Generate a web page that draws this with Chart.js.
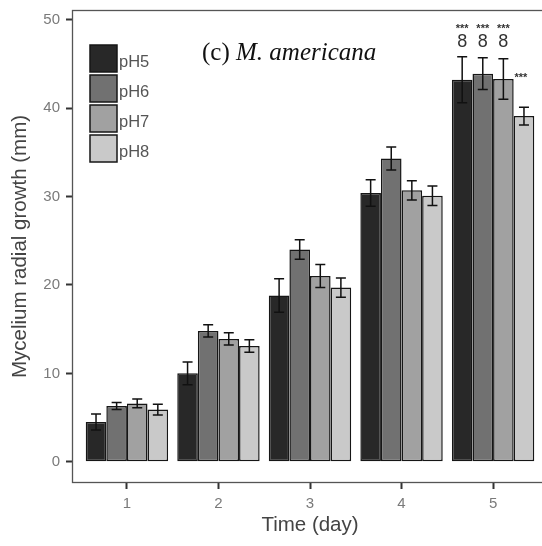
<!DOCTYPE html>
<html>
<head>
<meta charset="utf-8">
<script src="https://cdn.jsdelivr.net/npm/chart.js@4.4.1/dist/chart.umd.min.js"></script>
<style>
  html, body { margin: 0; padding: 0; background: #fff; }
  #wrap { width: 542px; height: 546px; overflow: hidden; position: relative; }
</style>
</head>
<body>
<div id="wrap"><canvas id="c" width="570" height="546"></canvas></div>
<script>
// values
const days = [1, 2, 3, 4, 5];
const yTicks = [0, 10, 20, 30, 40, 50];
const seriesNames = ['pH5', 'pH6', 'pH7', 'pH8'];
const ph5 = [4.5, 10.0, 18.8, 30.4, 43.2];
const ph6 = [6.3, 14.8, 24.0, 34.3, 43.9];
const ph7 = [6.6, 13.9, 21.0, 30.7, 43.3];
const ph8 = [5.9, 13.1, 19.7, 30.1, 39.1];
const ph5Err = [0.9, 1.3, 1.9, 1.5, 2.6];
const ph6Err = [0.4, 0.7, 1.1, 1.3, 1.8];
const ph7Err = [0.5, 0.7, 1.3, 1.1, 2.3];
const ph8Err = [0.6, 0.7, 1.1, 1.1, 1.0];
// significance marks on day 5
const sigLetters = ['8', '8', '8', ''];
const sigStars = ['***', '***', '***', '***'];

const colors = ['#282828', '#717171', '#a1a1a1', '#c9c9c9'];
const values = [ph5, ph6, ph7, ph8];
const errors = [ph5Err, ph6Err, ph7Err, ph8Err];

const FONT = '"Liberation Sans", Arial, sans-serif';

const datasets = seriesNames.map((name, i) => ({
    label: name,
    data: days.map((d, j) => ({ x: d, y: values[i][j] })),
    err: errors[i],
    backgroundColor: colors[i],
    borderColor: '#161616',
    borderWidth: 1.5,
    borderSkipped: false,
    categoryPercentage: 0.9,
    barPercentage: 1.0
}));

const extras = {
    id: 'extras',
    afterDatasetsDraw(chart) {
        const ctx = chart.ctx;
        const y = chart.scales.y;
        ctx.save();
        ctx.strokeStyle = '#111';
        ctx.lineWidth = 1.5;
        chart.data.datasets.forEach((ds, i) => {
            const meta = chart.getDatasetMeta(i);
            meta.data.forEach((bar, j) => {
                const v = ds.data[j].y;
                const top = y.getPixelForValue(v + ds.err[j]);
                const bot = y.getPixelForValue(v - ds.err[j]);
                ctx.beginPath();
                ctx.moveTo(bar.x, top); ctx.lineTo(bar.x, bot);
                ctx.moveTo(bar.x - 5, top); ctx.lineTo(bar.x + 5, top);
                ctx.moveTo(bar.x - 5, bot); ctx.lineTo(bar.x + 5, bot);
                ctx.stroke();
            });
        });

        // day 5 letters and stars
        ctx.fillStyle = '#333';
        ctx.textAlign = 'center';
        ctx.textBaseline = 'middle';
        chart.data.datasets.forEach((ds, i) => {
            const bar = chart.getDatasetMeta(i).data[4];
            ctx.font = 'bold 11px ' + FONT;
            if (sigLetters[i]) {
                ctx.fillText(sigStars[i], bar.x, y.getPixelForValue(49.0));
                ctx.font = '18px ' + FONT;
                ctx.fillText(sigLetters[i], bar.x, y.getPixelForValue(47.5));
            } else {
                ctx.fillText(sigStars[i], bar.x - 3, y.getPixelForValue(43.4));
            }
        });

        // panel border
        const a = chart.chartArea;
        ctx.strokeStyle = '#555';
        ctx.lineWidth = 1.3;
        ctx.strokeRect(a.left + 0.5, a.top + 0.5, a.right - a.left - 1, a.bottom - a.top - 1);

        // legend
        ctx.textAlign = 'left';
        ctx.font = '16.5px ' + FONT;
        chart.data.datasets.forEach((ds, i) => {
            const bx = a.left + 18, by = a.top + 35 + i * 30;
            ctx.fillStyle = ds.backgroundColor;
            ctx.fillRect(bx, by, 27, 27);
            ctx.strokeStyle = '#161616';
            ctx.lineWidth = 1.5;
            ctx.strokeRect(bx, by, 27, 27);
            ctx.fillStyle = '#555';
            ctx.fillText(ds.label, bx + 29, by + 17);
        });

        // panel title
        ctx.fillStyle = '#111';
        ctx.font = '25px "Liberation Serif", "Times New Roman", serif';
        const t1 = '(c) ';
        const tx = a.left + 130, ty = a.top + 43;
        ctx.fillText(t1, tx, ty);
        const w1 = ctx.measureText(t1).width;
        ctx.font = 'italic 25px "Liberation Serif", "Times New Roman", serif';
        ctx.fillText('M. americana', tx + w1, ty);
        ctx.restore();
    }
};

new Chart(document.getElementById('c'), {
    type: 'bar',
    data: { datasets },
    options: {
        responsive: false,
        animation: false,
        layout: { padding: { top: 10, right: 22, left: 0, bottom: 0 } },
        plugins: { legend: { display: false }, tooltip: { enabled: false } },
        scales: {
            x: {
                type: 'linear',
                min: 0.4,
                max: 5.6,
                offset: false,
                afterBuildTicks: s => { s.ticks = days.map(v => ({ value: v })); },
                afterFit: s => { s.height = 63; s.paddingLeft = 0; s.paddingRight = 0; },
                border: { display: false },
                grid: { offset: false, drawOnChartArea: false, tickLength: 6, tickWidth: 2, tickColor: '#333' },
                ticks: { padding: 6, color: '#7a7a7a', font: { family: FONT, size: 15 } },
                title: {
                    display: true,
                    text: 'Time (day)',
                    color: '#444',
                    padding: { bottom: 8 },
                    font: { family: FONT, size: 20.5 }
                }
            },
            y: {
                min: -2.4,
                max: 51.1,
                afterBuildTicks: s => { s.ticks = yTicks.map(v => ({ value: v })); },
                afterFit: s => { s.width = 72; s.paddingTop = 0; s.paddingBottom = 0; },
                border: { display: false },
                grid: { drawOnChartArea: false, tickLength: 6, tickWidth: 2, tickColor: '#333' },
                ticks: { padding: 6, color: '#7a7a7a', font: { family: FONT, size: 15 } },
                title: {
                    display: true,
                    text: 'Mycelium radial growth (mm)',
                    color: '#444',
                    padding: { top: 8 },
                    font: { family: FONT, size: 20.5 }
                }
            }
        }
    },
    plugins: [extras]
});
</script>
</body>
</html>
